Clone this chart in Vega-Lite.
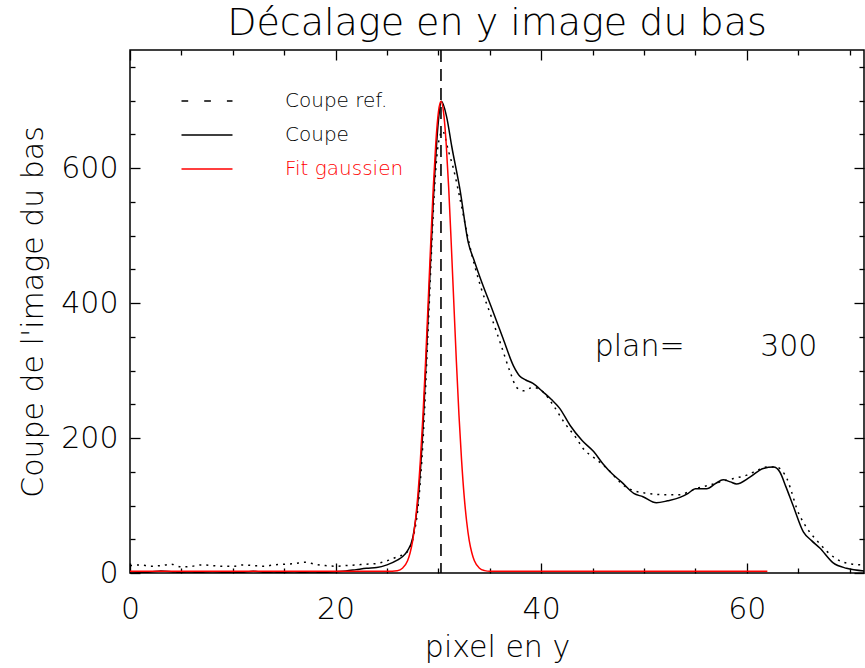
{
  "$schema": "https://vega.github.io/schema/vega-lite/v6.json",
  "autosize": {"type": "none"},
  "width": 734,
  "height": 523,
  "padding": {"left": 130, "top": 50, "right": 1, "bottom": 95},
  "background": "white",
  "title": {"text": "Décalage en y image du bas", "fontSize": 38, "fontWeight": 200, "font": "DejaVu Sans", "color": "black", "anchor": "middle", "frame": "group", "baseline": "alphabetic", "offset": -24},
  "datasets": {
    "curves": [
      {"serie": "Coupe ref.", "x": 0, "y": 11}, {"serie": "Coupe ref.", "x": 1, "y": 12}, {"serie": "Coupe ref.", "x": 2, "y": 10}, {"serie": "Coupe ref.", "x": 3, "y": 11}, {"serie": "Coupe ref.", "x": 4, "y": 13}, {"serie": "Coupe ref.", "x": 5, "y": 9}, {"serie": "Coupe ref.", "x": 6, "y": 10}, {"serie": "Coupe ref.", "x": 7, "y": 12}, {"serie": "Coupe ref.", "x": 8, "y": 11}, {"serie": "Coupe ref.", "x": 9, "y": 10}, {"serie": "Coupe ref.", "x": 10, "y": 10}, {"serie": "Coupe ref.", "x": 11, "y": 12}, {"serie": "Coupe ref.", "x": 12, "y": 11}, {"serie": "Coupe ref.", "x": 13, "y": 10}, {"serie": "Coupe ref.", "x": 14, "y": 12}, {"serie": "Coupe ref.", "x": 15, "y": 13}, {"serie": "Coupe ref.", "x": 16, "y": 14}, {"serie": "Coupe ref.", "x": 17, "y": 16}, {"serie": "Coupe ref.", "x": 18, "y": 13}, {"serie": "Coupe ref.", "x": 19, "y": 11}, {"serie": "Coupe ref.", "x": 20, "y": 10}, {"serie": "Coupe ref.", "x": 21, "y": 11}, {"serie": "Coupe ref.", "x": 22, "y": 12}, {"serie": "Coupe ref.", "x": 23, "y": 13}, {"serie": "Coupe ref.", "x": 24, "y": 14}, {"serie": "Coupe ref.", "x": 25, "y": 18}, {"serie": "Coupe ref.", "x": 26, "y": 24}, {"serie": "Coupe ref.", "x": 26.9, "y": 30}, {"serie": "Coupe ref.", "x": 27.6, "y": 56}, {"serie": "Coupe ref.", "x": 28, "y": 95}, {"serie": "Coupe ref.", "x": 28.5, "y": 195}, {"serie": "Coupe ref.", "x": 29, "y": 360}, {"serie": "Coupe ref.", "x": 29.35, "y": 484}, {"serie": "Coupe ref.", "x": 29.5, "y": 534}, {"serie": "Coupe ref.", "x": 29.7, "y": 588}, {"serie": "Coupe ref.", "x": 30, "y": 637}, {"serie": "Coupe ref.", "x": 30.4, "y": 655}, {"serie": "Coupe ref.", "x": 31, "y": 624}, {"serie": "Coupe ref.", "x": 31.45, "y": 600}, {"serie": "Coupe ref.", "x": 32, "y": 562}, {"serie": "Coupe ref.", "x": 33, "y": 488}, {"serie": "Coupe ref.", "x": 34.2, "y": 420}, {"serie": "Coupe ref.", "x": 35, "y": 386}, {"serie": "Coupe ref.", "x": 36, "y": 342}, {"serie": "Coupe ref.", "x": 37, "y": 297}, {"serie": "Coupe ref.", "x": 37.6, "y": 275}, {"serie": "Coupe ref.", "x": 38.3, "y": 270}, {"serie": "Coupe ref.", "x": 39.2, "y": 275}, {"serie": "Coupe ref.", "x": 40.2, "y": 268}, {"serie": "Coupe ref.", "x": 41.2, "y": 248}, {"serie": "Coupe ref.", "x": 42.2, "y": 224}, {"serie": "Coupe ref.", "x": 43.45, "y": 199}, {"serie": "Coupe ref.", "x": 44.1, "y": 184}, {"serie": "Coupe ref.", "x": 45.2, "y": 170}, {"serie": "Coupe ref.", "x": 46.4, "y": 155}, {"serie": "Coupe ref.", "x": 47.2, "y": 142}, {"serie": "Coupe ref.", "x": 48, "y": 130}, {"serie": "Coupe ref.", "x": 49, "y": 122}, {"serie": "Coupe ref.", "x": 50.3, "y": 118}, {"serie": "Coupe ref.", "x": 52, "y": 116}, {"serie": "Coupe ref.", "x": 53.5, "y": 116}, {"serie": "Coupe ref.", "x": 54.3, "y": 120}, {"serie": "Coupe ref.", "x": 55.1, "y": 125}, {"serie": "Coupe ref.", "x": 56.3, "y": 130}, {"serie": "Coupe ref.", "x": 57.4, "y": 135}, {"serie": "Coupe ref.", "x": 58.7, "y": 140}, {"serie": "Coupe ref.", "x": 60, "y": 145}, {"serie": "Coupe ref.", "x": 61, "y": 152}, {"serie": "Coupe ref.", "x": 61.9, "y": 157}, {"serie": "Coupe ref.", "x": 62.9, "y": 157}, {"serie": "Coupe ref.", "x": 63.5, "y": 150}, {"serie": "Coupe ref.", "x": 63.9, "y": 140}, {"serie": "Coupe ref.", "x": 64.4, "y": 118}, {"serie": "Coupe ref.", "x": 64.85, "y": 96}, {"serie": "Coupe ref.", "x": 65.5, "y": 75}, {"serie": "Coupe ref.", "x": 66.1, "y": 61}, {"serie": "Coupe ref.", "x": 67, "y": 45}, {"serie": "Coupe ref.", "x": 67.8, "y": 32}, {"serie": "Coupe ref.", "x": 68.6, "y": 22}, {"serie": "Coupe ref.", "x": 69.4, "y": 16}, {"serie": "Coupe ref.", "x": 70.3, "y": 13}, {"serie": "Coupe ref.", "x": 71.3, "y": 12},

      {"serie": "Coupe", "x": 0, "y": 2}, {"serie": "Coupe", "x": 1, "y": 1}, {"serie": "Coupe", "x": 2, "y": 1.5}, {"serie": "Coupe", "x": 3, "y": 3}, {"serie": "Coupe", "x": 4, "y": 2}, {"serie": "Coupe", "x": 5, "y": 0.5}, {"serie": "Coupe", "x": 6, "y": 0}, {"serie": "Coupe", "x": 7, "y": 1}, {"serie": "Coupe", "x": 8, "y": 2}, {"serie": "Coupe", "x": 9, "y": 1}, {"serie": "Coupe", "x": 10, "y": 0}, {"serie": "Coupe", "x": 11, "y": 1}, {"serie": "Coupe", "x": 12, "y": 2.5}, {"serie": "Coupe", "x": 13, "y": 1}, {"serie": "Coupe", "x": 14, "y": 0}, {"serie": "Coupe", "x": 15, "y": 1}, {"serie": "Coupe", "x": 16, "y": 2}, {"serie": "Coupe", "x": 17, "y": 0.5}, {"serie": "Coupe", "x": 18, "y": 0}, {"serie": "Coupe", "x": 19, "y": 1}, {"serie": "Coupe", "x": 20, "y": 2}, {"serie": "Coupe", "x": 21, "y": 3}, {"serie": "Coupe", "x": 22, "y": 5}, {"serie": "Coupe", "x": 23, "y": 7}, {"serie": "Coupe", "x": 24, "y": 8}, {"serie": "Coupe", "x": 25, "y": 12}, {"serie": "Coupe", "x": 26, "y": 19}, {"serie": "Coupe", "x": 26.5, "y": 24}, {"serie": "Coupe", "x": 27, "y": 33}, {"serie": "Coupe", "x": 27.5, "y": 52}, {"serie": "Coupe", "x": 27.75, "y": 75}, {"serie": "Coupe", "x": 28, "y": 105}, {"serie": "Coupe", "x": 28.5, "y": 215}, {"serie": "Coupe", "x": 29, "y": 380}, {"serie": "Coupe", "x": 29.5, "y": 550}, {"serie": "Coupe", "x": 30, "y": 670}, {"serie": "Coupe", "x": 30.3, "y": 699}, {"serie": "Coupe", "x": 30.8, "y": 676}, {"serie": "Coupe", "x": 31.3, "y": 632}, {"serie": "Coupe", "x": 32.1, "y": 568}, {"serie": "Coupe", "x": 32.9, "y": 490}, {"serie": "Coupe", "x": 33.5, "y": 462}, {"serie": "Coupe", "x": 34.05, "y": 438}, {"serie": "Coupe", "x": 35.3, "y": 388}, {"serie": "Coupe", "x": 36.3, "y": 347}, {"serie": "Coupe", "x": 37.3, "y": 307}, {"serie": "Coupe", "x": 37.9, "y": 292}, {"serie": "Coupe", "x": 38.5, "y": 286}, {"serie": "Coupe", "x": 39.2, "y": 281}, {"serie": "Coupe", "x": 40.2, "y": 268}, {"serie": "Coupe", "x": 41, "y": 257}, {"serie": "Coupe", "x": 41.8, "y": 244}, {"serie": "Coupe", "x": 42.8, "y": 219}, {"serie": "Coupe", "x": 44, "y": 196}, {"serie": "Coupe", "x": 45.1, "y": 180}, {"serie": "Coupe", "x": 46, "y": 162}, {"serie": "Coupe", "x": 46.9, "y": 147}, {"serie": "Coupe", "x": 47.8, "y": 135}, {"serie": "Coupe", "x": 49, "y": 118}, {"serie": "Coupe", "x": 49.9, "y": 113}, {"serie": "Coupe", "x": 51.2, "y": 104}, {"serie": "Coupe", "x": 52.3, "y": 107}, {"serie": "Coupe", "x": 53.5, "y": 112}, {"serie": "Coupe", "x": 54.3, "y": 118}, {"serie": "Coupe", "x": 55, "y": 125}, {"serie": "Coupe", "x": 56.1, "y": 125}, {"serie": "Coupe", "x": 57, "y": 133}, {"serie": "Coupe", "x": 57.7, "y": 138}, {"serie": "Coupe", "x": 58.4, "y": 135}, {"serie": "Coupe", "x": 59, "y": 132}, {"serie": "Coupe", "x": 60.3, "y": 142}, {"serie": "Coupe", "x": 61.6, "y": 155}, {"serie": "Coupe", "x": 62.6, "y": 157}, {"serie": "Coupe", "x": 63.2, "y": 150}, {"serie": "Coupe", "x": 63.8, "y": 128}, {"serie": "Coupe", "x": 64.5, "y": 100}, {"serie": "Coupe", "x": 65.5, "y": 61}, {"serie": "Coupe", "x": 66.3, "y": 48}, {"serie": "Coupe", "x": 67.1, "y": 37}, {"serie": "Coupe", "x": 68.4, "y": 15}, {"serie": "Coupe", "x": 69.7, "y": 7}, {"serie": "Coupe", "x": 71.5, "y": 3},

      {"serie": "Fit gaussien", "x": 0, "y": 2.5}, {"serie": "Fit gaussien", "x": 10, "y": 2.5}, {"serie": "Fit gaussien", "x": 20, "y": 2.5}, {"serie": "Fit gaussien", "x": 25, "y": 2.5}, {"serie": "Fit gaussien", "x": 26, "y": 3.5}, {"serie": "Fit gaussien", "x": 26.5, "y": 7}, {"serie": "Fit gaussien", "x": 27, "y": 18}, {"serie": "Fit gaussien", "x": 27.25, "y": 30}, {"serie": "Fit gaussien", "x": 27.5, "y": 48}, {"serie": "Fit gaussien", "x": 27.75, "y": 76}, {"serie": "Fit gaussien", "x": 28, "y": 115}, {"serie": "Fit gaussien", "x": 28.25, "y": 168}, {"serie": "Fit gaussien", "x": 28.5, "y": 234}, {"serie": "Fit gaussien", "x": 28.75, "y": 313}, {"serie": "Fit gaussien", "x": 29, "y": 400}, {"serie": "Fit gaussien", "x": 29.25, "y": 488}, {"serie": "Fit gaussien", "x": 29.5, "y": 571}, {"serie": "Fit gaussien", "x": 29.75, "y": 638}, {"serie": "Fit gaussien", "x": 30, "y": 683}, {"serie": "Fit gaussien", "x": 30.25, "y": 699}, {"serie": "Fit gaussien", "x": 30.5, "y": 683}, {"serie": "Fit gaussien", "x": 30.75, "y": 638}, {"serie": "Fit gaussien", "x": 31, "y": 571}, {"serie": "Fit gaussien", "x": 31.25, "y": 488}, {"serie": "Fit gaussien", "x": 31.5, "y": 400}, {"serie": "Fit gaussien", "x": 31.75, "y": 313}, {"serie": "Fit gaussien", "x": 32, "y": 234}, {"serie": "Fit gaussien", "x": 32.25, "y": 168}, {"serie": "Fit gaussien", "x": 32.5, "y": 115}, {"serie": "Fit gaussien", "x": 32.75, "y": 76}, {"serie": "Fit gaussien", "x": 33, "y": 48}, {"serie": "Fit gaussien", "x": 33.25, "y": 30}, {"serie": "Fit gaussien", "x": 33.5, "y": 18}, {"serie": "Fit gaussien", "x": 34, "y": 7}, {"serie": "Fit gaussien", "x": 34.5, "y": 3.5}, {"serie": "Fit gaussien", "x": 35, "y": 2.5}, {"serie": "Fit gaussien", "x": 62, "y": 2.5}
    ],
    "refline": [{"x": 30.25}],
    "notes": [{"x": 45.2, "y": 335, "text": "plan="}, {"x": 61.3, "y": 335, "text": "300"}]
  },
  "layer": [
    {
      "data": {"name": "curves"},
      "transform": [{"filter": "datum.serie === 'Coupe ref.'"}],
      "mark": {"type": "line", "interpolate": "monotone", "strokeWidth": 1.5, "strokeDash": [2, 5], "clip": true},
      "encoding": {
        "x": {"field": "x", "type": "quantitative", "scale": {"domain": [0, 71.4], "nice": false, "zero": false},
              "axis": {"orient": "bottom", "values": [0, 20, 40, 60], "tickSize": -10, "labelPadding": 31, "labelFlush": false, "labelOverlap": false, "format": "d", "title": "pixel en y", "titlePadding": 8}},
        "y": {"field": "y", "type": "quantitative", "scale": {"domain": [0, 775], "nice": false, "zero": false},
              "axis": {"orient": "left", "values": [0, 200, 400, 600], "tickSize": -10, "labelPadding": 22, "labelFlush": false, "labelOverlap": false, "format": "d", "title": "Coupe de l'image du bas", "titlePadding": 12}},
        "color": {"field": "serie", "type": "nominal",
                  "scale": {"domain": ["Coupe ref.", "Coupe", "Fit gaussien"], "range": ["black", "black", "red"]},
                  "legend": {"title": null, "orient": "none", "legendX": 67, "legendY": 41, "padding": 0,
                             "symbolType": "M-2.833,0H2.833", "symbolSize": 324, "symbolStrokeWidth": 1.5,
                             "labelFont": "DejaVu Sans", "labelFontSize": 20, "labelFontWeight": 200, "labelOffset": 68, "rowPadding": 14, "labelLimit": 300,
                             "encode": {
                               "symbols": {"update": {"strokeDash": {"signal": "datum.value === 'Coupe ref.' ? [6.7, 16] : [1, 0]"}, "stroke": {"signal": "datum.value === 'Fit gaussien' ? 'red' : 'black'"}, "fill": {"value": "transparent"}}},
                               "labels": {"update": {"fill": {"signal": "datum.value === 'Fit gaussien' ? 'red' : 'black'"}}}
                             }}}
      }
    },
    {
      "data": {"name": "curves"},
      "transform": [{"filter": "datum.serie === 'Coupe'"}],
      "mark": {"type": "line", "interpolate": "monotone", "strokeWidth": 1.5, "clip": true},
      "encoding": {
        "x": {"field": "x", "type": "quantitative", "axis": {"orient": "bottom", "values": [5, 10, 15, 25, 30, 35, 45, 50, 55, 65, 70], "tickSize": -5, "labels": false, "title": null}},
        "y": {"field": "y", "type": "quantitative", "axis": {"orient": "left", "values": [50, 100, 150, 250, 300, 350, 450, 500, 550, 650, 700, 750], "tickSize": -5, "labels": false, "title": null}},
        "color": {"field": "serie", "type": "nominal"}
      }
    },
    {
      "data": {"name": "curves"},
      "transform": [{"filter": "datum.serie === 'Fit gaussien'"}],
      "mark": {"type": "line", "interpolate": "monotone", "strokeWidth": 1.5, "clip": true},
      "encoding": {
        "x": {"field": "x", "type": "quantitative", "axis": {"orient": "top", "values": [0, 20, 40, 60], "tickSize": -10, "labels": false, "title": null}},
        "y": {"field": "y", "type": "quantitative", "axis": {"orient": "right", "values": [0, 200, 400, 600], "tickSize": -10, "labels": false, "title": null}},
        "color": {"field": "serie", "type": "nominal"}
      }
    },
    {
      "data": {"name": "refline"},
      "mark": {"type": "rule", "color": "black", "strokeWidth": 1.6, "strokeDash": [12, 7]},
      "encoding": {
        "x": {"field": "x", "type": "quantitative", "axis": {"orient": "top", "values": [5, 10, 15, 25, 30, 35, 45, 50, 55, 65, 70], "tickSize": -5, "labels": false, "title": null}}
      }
    },
    {
      "data": {"name": "notes"},
      "mark": {"type": "text", "align": "left", "baseline": "middle", "fontSize": 30, "fontWeight": 200, "font": "DejaVu Sans", "color": "black"},
      "encoding": {
        "x": {"field": "x", "type": "quantitative", "axis": null},
        "y": {"field": "y", "type": "quantitative", "axis": {"orient": "right", "values": [50, 100, 150, 250, 300, 350, 450, 500, 550, 650, 700, 750], "tickSize": -5, "labels": false, "title": null}},
        "text": {"field": "text"}
      }
    }
  ],
  "resolve": {"axis": {"x": "independent", "y": "independent"}},
  "config": {
    "font": "DejaVu Sans",
    "view": {"stroke": "black", "strokeWidth": 1.5},
    "axis": {"domain": false, "grid": false, "tickColor": "black", "tickWidth": 1.3, "labelColor": "black", "titleColor": "black",
             "labelFont": "DejaVu Sans", "titleFont": "DejaVu Sans", "labelFontSize": 30, "titleFontSize": 30, "labelFontWeight": 200, "titleFontWeight": 200}
  }
}
